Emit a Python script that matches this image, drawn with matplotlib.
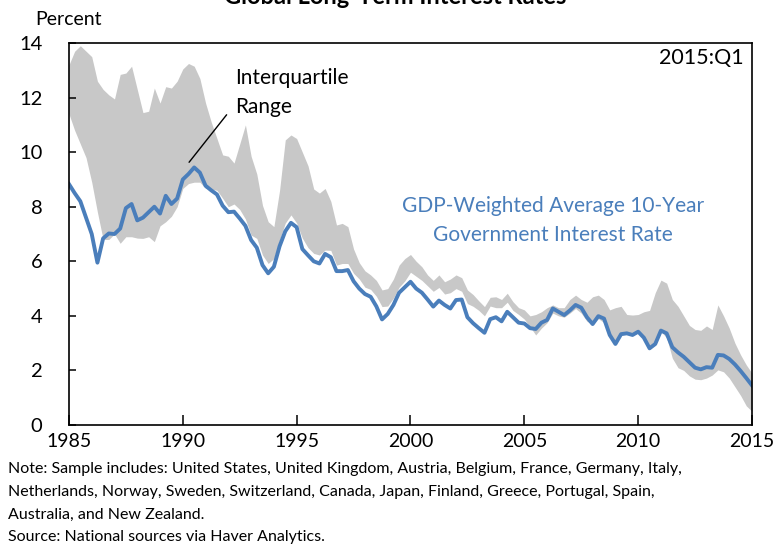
import numpy as np
import matplotlib.pyplot as plt

# quarterly data, 1985:Q1 .. 2015:Q1
start_year = 1985
avg_rate = [
    8.83, 8.5, 8.2, 7.6, 7.0, 5.95, 6.84, 7.02, 7.0, 7.2,
    7.95, 8.1, 7.5, 7.6, 7.8, 8.0, 7.75, 8.4, 8.1, 8.3,
    9.0, 9.2, 9.44, 9.25, 8.77, 8.6, 8.45, 8.04, 7.8, 7.82,
    7.57, 7.3, 6.78, 6.5, 5.86, 5.56, 5.8, 6.55, 7.1, 7.41,
    7.25, 6.45, 6.22, 6.0, 5.92, 6.27, 6.15, 5.64, 5.64, 5.68,
    5.27, 5.0, 4.8, 4.7, 4.35, 3.87, 4.07, 4.4, 4.85, 5.05,
    5.25, 5.0, 4.85, 4.6, 4.34, 4.56, 4.4, 4.27, 4.58, 4.6,
    3.95, 3.73, 3.55, 3.38, 3.88, 3.95, 3.8, 4.15, 3.95, 3.75,
    3.72, 3.55, 3.52, 3.75, 3.85, 4.27, 4.15, 4.03, 4.2, 4.4,
    4.3, 3.95, 3.7, 3.99, 3.9, 3.3, 2.97, 3.33, 3.36, 3.3,
    3.42, 3.2, 2.81, 2.97, 3.46, 3.36, 2.85, 2.66, 2.5, 2.3,
    2.1, 2.04, 2.12, 2.1, 2.57, 2.55, 2.42, 2.22, 1.98, 1.72,
    1.45,
]
upper_q = [
    13.2, 13.7, 13.9, 13.7, 13.5, 12.6, 12.3, 12.1, 11.95, 12.85,
    12.9, 13.15, 12.3, 11.45, 11.5, 12.35, 11.8, 12.4, 12.35, 12.6,
    13.05, 13.25, 13.15, 12.7, 11.8, 11.1, 10.5, 9.9, 9.85, 9.6,
    10.3, 11.0, 9.85, 9.2, 8.05, 7.45, 7.27, 8.6, 10.45, 10.63,
    10.5, 10.0, 9.5, 8.65, 8.5, 8.67, 8.2, 7.33, 7.39, 7.27,
    6.45, 5.95, 5.65, 5.5, 5.3, 4.95, 5.0, 5.35, 5.86, 6.1,
    6.25, 6.0, 5.8, 5.5, 5.3, 5.5, 5.25, 5.35, 5.5, 5.4,
    4.95, 4.78, 4.55, 4.34, 4.68, 4.7, 4.6, 4.83, 4.52, 4.3,
    4.22, 4.0, 4.05, 4.15, 4.3, 4.4, 4.3, 4.3, 4.6, 4.76,
    4.6, 4.5, 4.7, 4.76, 4.6, 4.22, 4.3, 4.35, 4.05, 4.03,
    4.05, 4.15, 4.2, 4.85, 5.31, 5.2, 4.6, 4.35, 4.0, 3.65,
    3.5, 3.47, 3.63, 3.5, 4.4, 4.0, 3.55, 3.0, 2.57, 2.2,
    1.9,
]
lower_q = [
    11.4, 10.8, 10.3, 9.8, 8.9, 7.8, 6.8, 6.8, 7.0, 6.66,
    6.9, 6.9, 6.85, 6.84, 6.9, 6.72, 7.3, 7.45, 7.65, 8.0,
    8.67, 8.85, 8.9, 8.9, 8.67, 8.65, 8.6, 8.31, 8.0, 8.1,
    7.9, 7.55, 6.96, 6.84, 6.23, 5.92, 6.1, 6.78, 7.4, 7.7,
    7.4, 6.85, 6.5, 6.29, 6.23, 6.41, 6.4, 5.86, 5.92, 5.92,
    5.56, 5.35, 5.05, 4.97, 4.72, 4.34, 4.36, 4.65, 5.05, 5.28,
    5.6, 5.45, 5.3, 5.1, 4.9, 5.04, 4.8, 4.85, 5.0, 4.9,
    4.45, 4.35, 4.2, 4.0, 4.36, 4.3, 4.3, 4.5, 4.2, 4.05,
    3.88, 3.6, 3.3, 3.55, 3.75, 4.1, 4.0, 3.95, 4.1, 4.27,
    4.1, 3.8, 3.7, 3.9, 3.75, 3.2, 2.93, 3.3, 3.33, 3.27,
    3.38, 3.15, 2.78, 2.94, 3.43, 3.2, 2.45, 2.1, 2.0, 1.8,
    1.68, 1.66, 1.72, 1.83, 2.02, 1.95, 1.72, 1.4, 1.08, 0.7,
    0.5,
]
year_ticks = [1985, 1990, 1995, 2000, 2005, 2010, 2015]
pct_ticks = [0, 2, 4, 6, 8, 10, 12, 14]

t = start_year + np.arange(len(avg_rate)) / 4.0

plt.rcParams['font.family'] = ['Lato', 'DejaVu Sans']

fig = plt.figure(figsize=(7.74, 5.46), dpi=100)
ax = fig.add_axes([0.0891, 0.2216, 0.8825, 0.6996])

ax.fill_between(t, lower_q, upper_q, color='#c8c8c8', lw=0)
ax.plot(t, avg_rate, color='#4a7ebb', lw=2.8, solid_joinstyle='round')

ax.set_xlim(1985, 2015)
ax.set_ylim(0, 14)
ax.set_xticks(year_ticks)
ax.set_yticks(pct_ticks)
ax.tick_params(axis='x', direction='in', length=7, width=1.1, pad=6, labelsize=14)
ax.tick_params(axis='y', direction='in', length=5, width=1.1, pad=19, labelsize=14.5)
for s in ax.spines.values():
    s.set_linewidth(1.2)

ax.text(0.988, 0.962, '2015:Q1', transform=ax.transAxes, ha='right', va='center', fontsize=15.5)
ax.text(1992.3, 12.2, 'Interquartile\nRange', ha='left', va='center', fontsize=15, linespacing=1.55)
ax.annotate('', xy=(1990.2, 9.55), xytext=(1992.0, 11.45),
            arrowprops=dict(arrowstyle='-', lw=1, color='black'))
ax.text(2006.25, 7.5, 'GDP-Weighted Average 10-Year\nGovernment Interest Rate',
        ha='center', va='center', fontsize=15, color='#4a7ebb', linespacing=1.6)

fig.text(0.046, 0.965, 'Percent', ha='left', va='center', fontsize=14)
fig.text(0.51, 1 - 4 / 546, 'Global Long-Term Interest Rates', ha='center', va='baseline',
         fontsize=17, fontweight='bold')
note = ('Note: Sample includes: United States, United Kingdom, Austria, Belgium, France, Germany, Italy,\n'
        'Netherlands, Norway, Sweden, Switzerland, Canada, Japan, Finland, Greece, Portugal, Spain,\n'
        'Australia, and New Zealand.\n'
        'Source: National sources via Haver Analytics.')
fig.text(0.010, 1 - 462 / 546, note, ha='left', va='top', fontsize=11.5, linespacing=1.8)

fig.savefig('out.png', dpi=100)
